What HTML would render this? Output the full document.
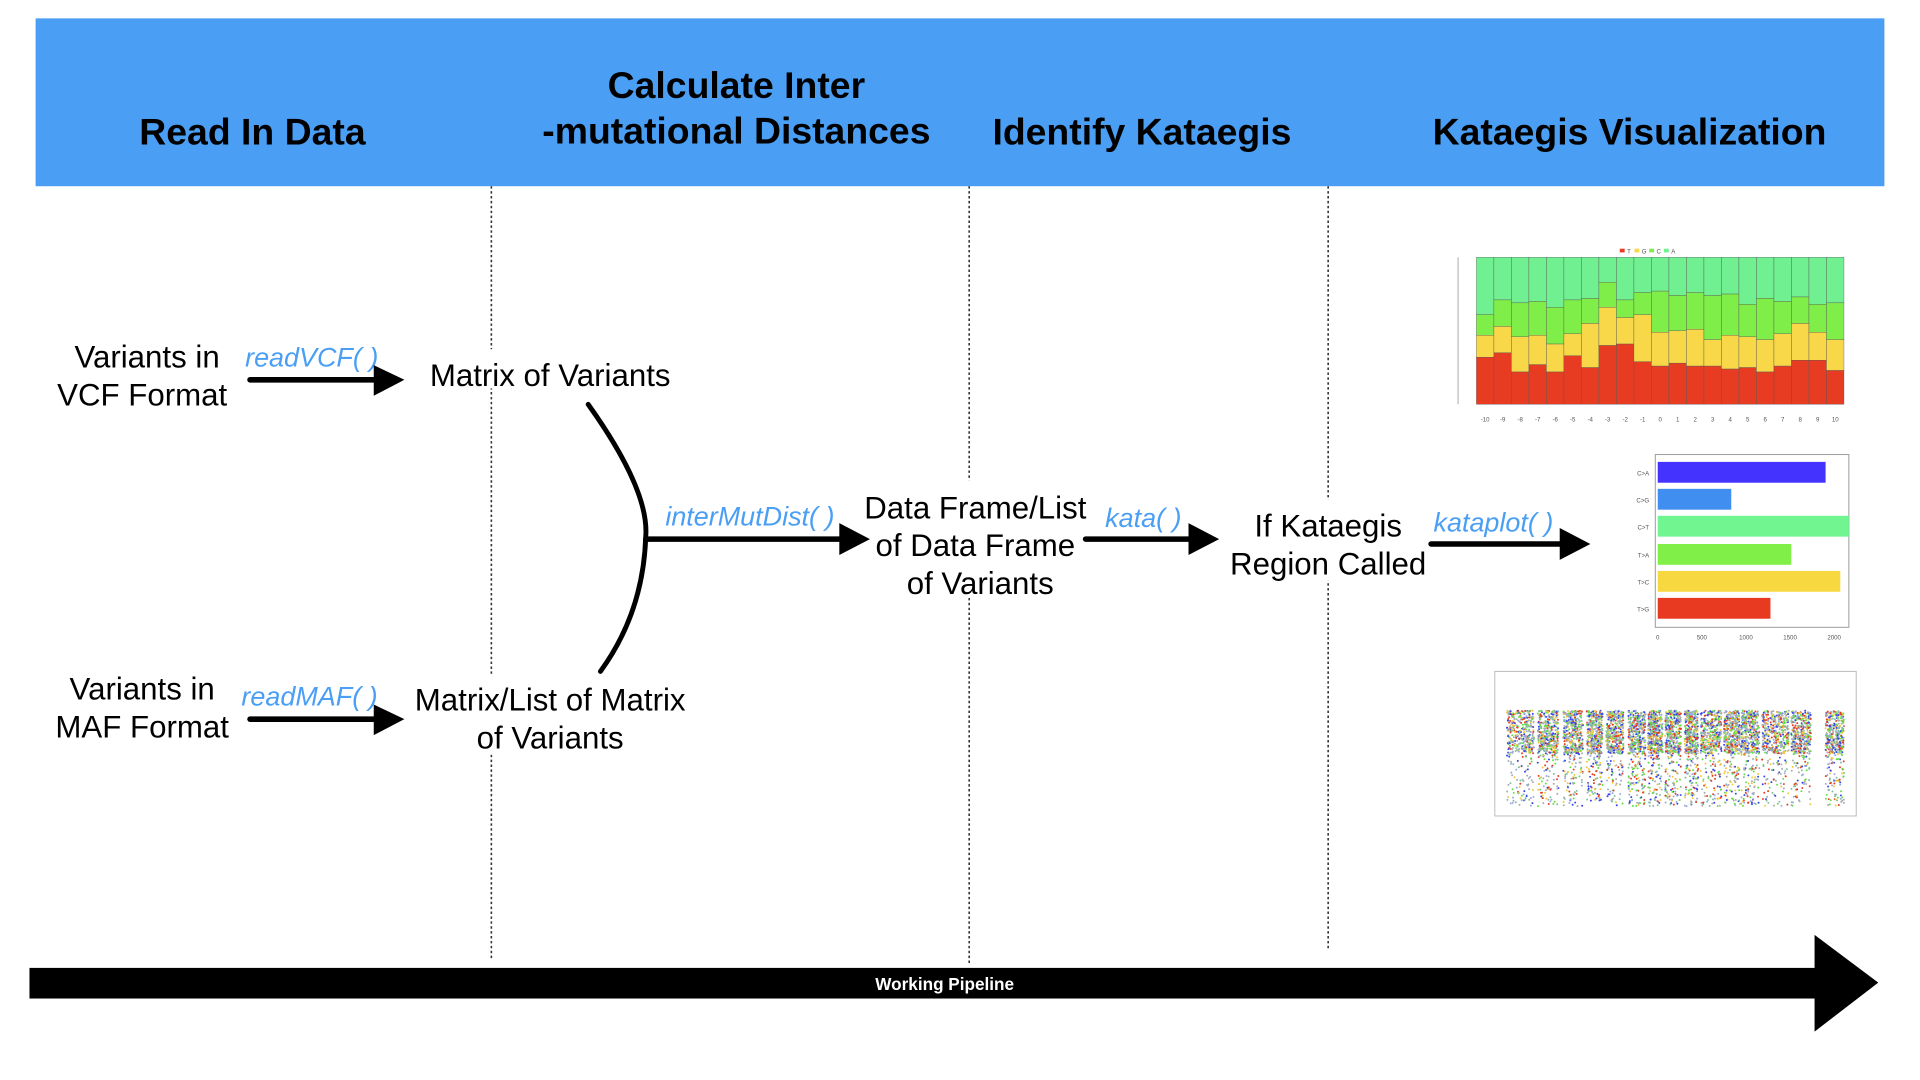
<!DOCTYPE html>
<html><head><meta charset="utf-8"><style>
html,body{margin:0;padding:0;background:#fff;width:1920px;height:1080px;overflow:hidden}
svg{display:block}
text{font-family:"Liberation Sans",sans-serif}
</style></head><body>
<svg id="s" width="1920" height="1080" viewBox="0 0 1567 881.5" xmlns="http://www.w3.org/2000/svg">
<rect x="29" y="15" width="1509" height="137" fill="#4A9FF5"/>
<g font-weight="bold" font-size="30.5" text-anchor="middle" fill="#000">
<text x="206" y="118">Read In Data</text>
<text x="601" y="80">Calculate Inter</text>
<text x="601" y="117">-mutational Distances</text>
<text x="932" y="118">Identify Kataegis</text>
<text x="1330" y="118">Kataegis Visualization</text>
</g>
<g stroke="#333" stroke-width="1.3" stroke-dasharray="2,2">
<line x1="401" y1="152" x2="401" y2="783"/>
<line x1="791" y1="152" x2="791" y2="787"/>
<line x1="1084" y1="152" x2="1084" y2="775"/>
</g>
<g font-size="25.5" text-anchor="middle" fill="#000">
<rect x="330" y="285" width="240" height="32" fill="#fff"/>
<rect x="320" y="550" width="260" height="66" fill="#fff"/>
<rect x="700" y="392" width="195" height="96" fill="#fff"/>
<rect x="998" y="408" width="172" height="66" fill="#fff"/>
<text x="120" y="300">Variants in</text>
<text x="116" y="331">VCF Format</text>
<text x="449" y="315">Matrix of Variants</text>
<text x="796" y="423">Data Frame/List</text>
<text x="796" y="454">of Data Frame</text>
<text x="800" y="485">of Variants</text>
<text x="1084" y="438">If Kataegis</text>
<text x="1084" y="469">Region Called</text>
<text x="116" y="571">Variants in</text>
<text x="116" y="602">MAF Format</text>
<text x="449" y="580">Matrix/List of Matrix</text>
<text x="449" y="611">of Variants</text>
</g>
<g font-size="22" font-style="italic" fill="#4A9FF5">
<text x="200" y="299">readVCF( )</text>
<text x="197" y="576">readMAF( )</text>
<text x="543" y="429">interMutDist( )</text>
<text x="902" y="430">kata( )</text>
<text x="1170" y="434">kataplot( )</text>
</g>
<g stroke="#000" stroke-width="4.5" fill="none" stroke-linecap="round">
<line x1="204" y1="310" x2="310" y2="310"/>
<line x1="204" y1="587" x2="310" y2="587"/>
<line x1="527" y1="440" x2="690" y2="440"/>
<line x1="886" y1="440" x2="975" y2="440"/>
<line x1="1168" y1="444" x2="1278" y2="444"/>
<path d="M480 330 Q530 400 527 438 Q525 500 490 548" stroke-width="4"/>
</g>
<g fill="#000">
<polygon points="305,298 330,310 305,323"/>
<polygon points="305,575 330,587 305,600"/>
<polygon points="685,427 710,440 685,453"/>
<polygon points="970,427 995,440 970,453"/>
<polygon points="1273,431 1298,444 1273,457"/>
<rect x="24" y="790" width="1460" height="25"/>
<polygon points="1481,763 1533,802 1481,842"/>
</g>
<text x="771" y="808" font-size="14" font-weight="bold" fill="#fff" text-anchor="middle">Working Pipeline</text>
<g id="stack"></g>
<g id="hbar">
<rect x="1351" y="371" width="158" height="141" fill="none" stroke="#999" stroke-width="0.8"/>
<rect x="1353" y="377" width="137" height="17" fill="#4433ff"/>
<rect x="1353" y="399" width="60" height="17" fill="#3f8ef0"/>
<rect x="1353" y="421" width="156" height="17" fill="#70f590"/>
<rect x="1353" y="444" width="109" height="17" fill="#80f048"/>
<rect x="1353" y="466" width="149" height="17" fill="#f8d840"/>
<rect x="1353" y="488" width="92" height="17" fill="#e83a20"/>
<g font-size="5" fill="#555" text-anchor="end">
<text x="1346" y="388">C&gt;A</text><text x="1346" y="410">C&gt;G</text><text x="1346" y="432">C&gt;T</text>
<text x="1346" y="455">T&gt;A</text><text x="1346" y="477">T&gt;C</text><text x="1346" y="499">T&gt;G</text>
</g>
<g font-size="5" fill="#555" text-anchor="middle">
<text x="1353" y="522">0</text><text x="1389" y="522">500</text><text x="1425" y="522">1000</text><text x="1461" y="522">1500</text><text x="1497" y="522">2000</text>
</g>
</g>
<g id="scat">
<rect x="1220" y="548" width="295" height="118" fill="none" stroke="#bbb" stroke-width="0.8"/>
</g>
</svg>
<script>
var NS="http://www.w3.org/2000/svg";
function el(t,a,p){var e=document.createElementNS(NS,t);for(var k in a)e.setAttribute(k,a[k]);p.appendChild(e);return e;}
var T=[.32,.35,.22,.27,.22,.33,.25,.40,.41,.29,.26,.28,.26,.26,.24,.25,.22,.26,.30,.30,.23];
var G=[.47,.53,.46,.47,.41,.48,.55,.66,.59,.61,.49,.50,.51,.44,.47,.46,.44,.48,.55,.49,.44];
var C=[.61,.71,.69,.70,.66,.71,.72,.83,.71,.76,.77,.74,.76,.74,.75,.68,.72,.70,.73,.68,.69];
var st=document.getElementById("stack");
var x0=1205,w=300/21,y0=330,h=120;
for(var i=0;i<21;i++){var x=x0+i*w;
el("rect",{x:x,y:y0-h,width:w,height:h*(1-C[i]),fill:"#70f090",stroke:"#555","stroke-width":0.3},st);
el("rect",{x:x,y:y0-h*C[i],width:w,height:h*(C[i]-G[i]),fill:"#80ee48",stroke:"#555","stroke-width":0.3},st);
el("rect",{x:x,y:y0-h*G[i],width:w,height:h*(G[i]-T[i]),fill:"#f8d848",stroke:"#555","stroke-width":0.3},st);
el("rect",{x:x,y:y0-h*T[i],width:w,height:h*T[i],fill:"#e83c22",stroke:"#555","stroke-width":0.3},st);
var t=el("text",{x:x+w/2,y:344,"font-size":5,"text-anchor":"middle",fill:"#555"},st);t.textContent=(i-10);}
el("line",{x1:1190,y1:210,x2:1190,y2:330,stroke:"#777","stroke-width":0.5},st);
var lg=[["#e83c22","T"],["#f8d848","G"],["#80ee48","C"],["#70f090","A"]];
for(var j=0;j<4;j++){el("rect",{x:1322+j*12,y:203,width:4,height:3,fill:lg[j][0]},st);var tt=el("text",{x:1328+j*12,y:207,"font-size":5,fill:"#555"},st);tt.textContent=lg[j][1];}
var sc=document.getElementById("scat");var seed=7;function r(){seed=(seed*16807)%2147483647;return seed/2147483647;}
var cols=["#e83c22","#3344ee","#60e040","#f0c840","#aaa","#80c0a0","#9ad"];
var groups=[[1230,1252],[1255,1272],[1276,1292],[1295,1308],[1311,1325],[1329,1343],[1345,1357],[1359,1372],[1375,1386],[1388,1405],[1407,1420],[1421,1436],[1438,1460],[1462,1478],[1490,1505]];
groups.forEach(function(g){for(var k=0;k<420;k++){var x=g[0]+r()*(g[1]-g[0]);var y=r()<0.75?580+r()*35:600+r()*58;el("circle",{cx:x,cy:y,r:0.8,fill:cols[Math.floor(r()*7)]},sc);}});
</script>
</body></html>
